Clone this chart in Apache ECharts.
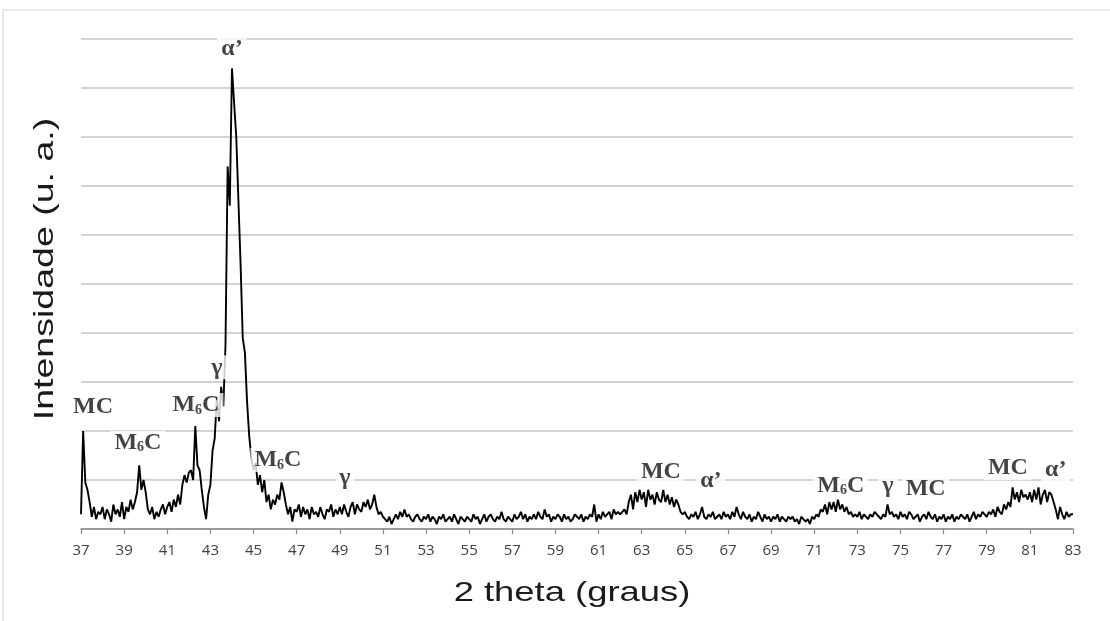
<!DOCTYPE html>
<html>
<head>
<meta charset="utf-8">
<script src="https://cdn.jsdelivr.net/npm/echarts@6/dist/echarts.min.js"></script>
<style>
html,body{margin:0;padding:0;background:#fff;}
#chart{width:1110px;height:621px;}
</style>
</head>
<body>
<div id="chart"></div>
<script>
// 2 theta start and step (degrees), intensity (arbitrary units)
const thetaStart = 37.0;
const thetaStep = 0.1;
const intensity = [
  // 37.0 - 37.9
  0.3, 2.0, 0.95, 0.8, 0.55, 0.25, 0.45, 0.2, 0.35, 0.3,
  // 38
  0.45, 0.2, 0.4, 0.3, 0.15, 0.5, 0.3, 0.4, 0.25, 0.55,
  // 39
  0.2, 0.45, 0.35, 0.6, 0.4, 0.55, 0.75, 1.3, 0.8, 1.0,
  // 40
  0.75, 0.4, 0.3, 0.45, 0.2, 0.35, 0.25, 0.4, 0.5, 0.3,
  // 41
  0.45, 0.55, 0.35, 0.6, 0.45, 0.7, 0.5, 0.9, 1.1, 0.95,
  // 42
  1.15, 1.2, 1.0, 2.1, 1.3, 1.2, 0.8, 0.45, 0.2, 0.7,
  // 43
  0.9, 1.6, 1.85, 2.7, 2.2, 2.9, 2.5, 3.75, 7.4, 6.6,
  // 44
  9.4, 8.7, 8.0, 6.7, 5.4, 3.9, 3.6, 2.6, 1.9, 1.45,
  // 45
  1.2, 1.35, 0.9, 1.1, 0.75, 1.0, 0.55, 0.7, 0.4, 0.6,
  // 46
  0.5, 0.7, 0.6, 0.95, 0.75, 0.5, 0.3, 0.45, 0.15, 0.4,
  // 47
  0.35, 0.5, 0.25, 0.45, 0.3, 0.4, 0.2, 0.45, 0.3, 0.35,
  // 48
  0.25, 0.45, 0.3, 0.2, 0.4, 0.35, 0.5, 0.25, 0.4, 0.3,
  // 49
  0.45, 0.3, 0.5, 0.35, 0.25, 0.45, 0.55, 0.3, 0.5, 0.4,
  // 50
  0.35, 0.55, 0.45, 0.6, 0.4, 0.5, 0.7, 0.45, 0.3, 0.35,
  // 51
  0.25, 0.2, 0.15, 0.25, 0.1, 0.2, 0.3, 0.2, 0.35, 0.25,
  // 52
  0.4, 0.25, 0.3, 0.2, 0.15, 0.25, 0.3, 0.2, 0.15, 0.25,
  // 53
  0.2, 0.3, 0.15, 0.25, 0.2, 0.1, 0.25, 0.2, 0.3, 0.15,
  // 54
  0.2, 0.25, 0.15, 0.3, 0.2, 0.1, 0.25, 0.2, 0.15, 0.25,
  // 55
  0.2, 0.15, 0.3, 0.2, 0.25, 0.1, 0.2, 0.3, 0.15, 0.25,
  // 56
  0.3, 0.2, 0.15, 0.25, 0.2, 0.35, 0.2, 0.15, 0.25, 0.2,
  // 57
  0.15, 0.3, 0.2, 0.25, 0.35, 0.2, 0.3, 0.15, 0.25, 0.2,
  // 58
  0.3, 0.2, 0.35, 0.25, 0.2, 0.4, 0.25, 0.3, 0.15, 0.25,
  // 59
  0.2, 0.3, 0.25, 0.15, 0.3, 0.2, 0.25, 0.15, 0.2, 0.3,
  // 60
  0.25, 0.2, 0.3, 0.15, 0.25, 0.2, 0.3, 0.25, 0.5, 0.15,
  // 61
  0.3, 0.2, 0.35, 0.25, 0.3, 0.35, 0.2, 0.4, 0.3, 0.35,
  // 62
  0.3, 0.35, 0.4, 0.3, 0.55, 0.7, 0.4, 0.75, 0.55, 0.8,
  // 63
  0.6, 0.75, 0.45, 0.8, 0.6, 0.7, 0.5, 0.75, 0.6, 0.55,
  // 64
  0.8, 0.55, 0.7, 0.5, 0.65, 0.45, 0.6, 0.5, 0.35, 0.3,
  // 65
  0.35, 0.25, 0.2, 0.3, 0.25, 0.35, 0.2, 0.3, 0.45, 0.25,
  // 66
  0.2, 0.3, 0.25, 0.35, 0.2, 0.25, 0.3, 0.2, 0.35, 0.25,
  // 67
  0.3, 0.2, 0.35, 0.25, 0.45, 0.3, 0.2, 0.35, 0.25, 0.2,
  // 68
  0.3, 0.15, 0.25, 0.2, 0.35, 0.25, 0.15, 0.3, 0.2, 0.25,
  // 69
  0.15, 0.25, 0.2, 0.3, 0.15, 0.25, 0.2, 0.15, 0.25, 0.2,
  // 70
  0.25, 0.15, 0.2, 0.1, 0.25, 0.2, 0.15, 0.2, 0.1, 0.25,
  // 71
  0.2, 0.3, 0.25, 0.4, 0.35, 0.5, 0.3, 0.55, 0.4, 0.55,
  // 72
  0.35, 0.6, 0.4, 0.5, 0.35, 0.45, 0.3, 0.35, 0.25, 0.3,
  // 73
  0.25, 0.35, 0.2, 0.3, 0.25, 0.2, 0.3, 0.25, 0.35, 0.3,
  // 74
  0.25, 0.2, 0.3, 0.25, 0.5, 0.3, 0.35, 0.25, 0.3, 0.2,
  // 75
  0.35, 0.25, 0.3, 0.2, 0.35, 0.3, 0.2, 0.25, 0.3, 0.15,
  // 76
  0.25, 0.3, 0.2, 0.35, 0.25, 0.2, 0.3, 0.15, 0.25, 0.2,
  // 77
  0.3, 0.15, 0.25, 0.2, 0.3, 0.15, 0.25, 0.2, 0.3, 0.25,
  // 78
  0.2, 0.3, 0.15, 0.25, 0.35, 0.2, 0.3, 0.25, 0.35, 0.3,
  // 79
  0.25, 0.35, 0.3, 0.4, 0.25, 0.45, 0.35, 0.3, 0.5, 0.4,
  // 80
  0.55, 0.45, 0.85, 0.6, 0.75, 0.55, 0.8, 0.65, 0.7, 0.6,
  // 81
  0.75, 0.55, 0.8, 0.6, 0.85, 0.5, 0.7, 0.8, 0.55, 0.75,
  // 82
  0.7, 0.55, 0.4, 0.2, 0.45, 0.3, 0.2, 0.35, 0.25, 0.3,
  // 83.0
  0.3
];

// Peak annotations: 2 theta, intensity position, phase label
const peakTheta = [44.0, 43.3, 37.56, 39.64, 42.33, 46.13, 49.24, 63.89, 66.21, 72.23, 74.41, 76.17, 79.98, 82.2];
const peakLevel = [9.8, 3.3, 2.5, 1.76, 2.53, 1.41, 1.04, 1.16, 0.98, 0.88, 0.88, 0.82, 1.24, 1.2];
const peakPhase = ["α'", "γ", "MC", "M6C", "M6C", "M6C", "γ", "MC", "α'", "M6C", "γ", "MC", "MC", "α'"];

const xTicks = [37,39,41,43,45,47,49,51,53,55,57,59,61,63,65,67,69,71,73,75,77,79,81,83];
const xTitle = "2 theta (graus)";
const yTitle = "Intensidade (u. a.)";

const lineData = intensity.map((v, i) => [+(thetaStart + i * thetaStep).toFixed(1), v]);
const labelData = peakTheta.map((t, i) => ({ value: [t, peakLevel[i]], name: peakPhase[i] }));

function phaseText(p) {
  if (p === 'M6C') return '{m|M}{s|6}{m|C}';
  if (p === "α'") return '{m|α’}';
  return '{m|' + p + '}';
}

const chart = echarts.init(document.getElementById('chart'), null, { renderer: 'canvas' });
chart.setOption({
  backgroundColor: '#ffffff',
  animation: false,
  grid: { left: 81, right: 37, top: 39, bottom: 92, containLabel: false },
  xAxis: {
    type: 'value',
    min: 37, max: 83, interval: 2,
    axisLine: { show: true, lineStyle: { color: '#8a8a8a', width: 1.5 } },
    axisTick: { show: true, inside: false, length: 5, lineStyle: { color: '#8a8a8a', width: 1.2 } },
    axisLabel: {
      show: true, margin: 14, color: '#404040', fontSize: 15, fontFamily: 'Open Sans',
      customValues: xTicks, formatter: v => String(v)
    },
    splitLine: { show: false }
  },
  yAxis: {
    type: 'value',
    min: 0, max: 10, interval: 1,
    axisLine: { show: false },
    axisTick: { show: false },
    axisLabel: { show: false },
    splitLine: { show: true, lineStyle: { color: '#c4c4c4', width: 1.6 } }
  },
  graphic: [
    { type: 'rect', shape: { x: 3, y: 10, width: 1110, height: 620 }, style: { fill: 'none', stroke: '#e0e0e0', lineWidth: 1.5 }, silent: true, z: -1 },
    { type: 'text', x: 572, y: 593, scaleX: 1.3,
      style: { text: xTitle, font: '28px "Liberation Sans", Arial, sans-serif', fill: '#1a1a1a', textAlign: 'center', textVerticalAlign: 'middle' } },
    { type: 'text', x: 45, y: 269, rotation: Math.PI / 2, scaleX: 1.34,
      style: { text: yTitle, font: '28px "Liberation Sans", Arial, sans-serif', fill: '#1a1a1a', textAlign: 'center', textVerticalAlign: 'middle' } }
  ],
  series: [
    {
      type: 'line',
      data: lineData,
      showSymbol: false,
      symbol: 'none',
      lineStyle: { color: '#000000', width: 1.9 },
      z: 3
    },
    {
      type: 'scatter',
      data: labelData,
      symbolSize: 0,
      z: 5,
      label: {
        show: true,
        position: 'inside',
        formatter: p => phaseText(p.name),
        backgroundColor: '#ffffff',
        padding: [0, 4, 0, 4],
        rich: {
          m: { fontFamily: '"Liberation Serif", "Times New Roman", serif', fontWeight: 'bold', fontSize: 24, color: '#141414' },
          s: { fontFamily: '"Liberation Serif", "Times New Roman", serif', fontWeight: 'bold', fontSize: 14, color: '#141414', verticalAlign: 'bottom', padding: [9, 0, 0, 0] }
        }
      }
    }
  ]
});
</script>
</body>
</html>
